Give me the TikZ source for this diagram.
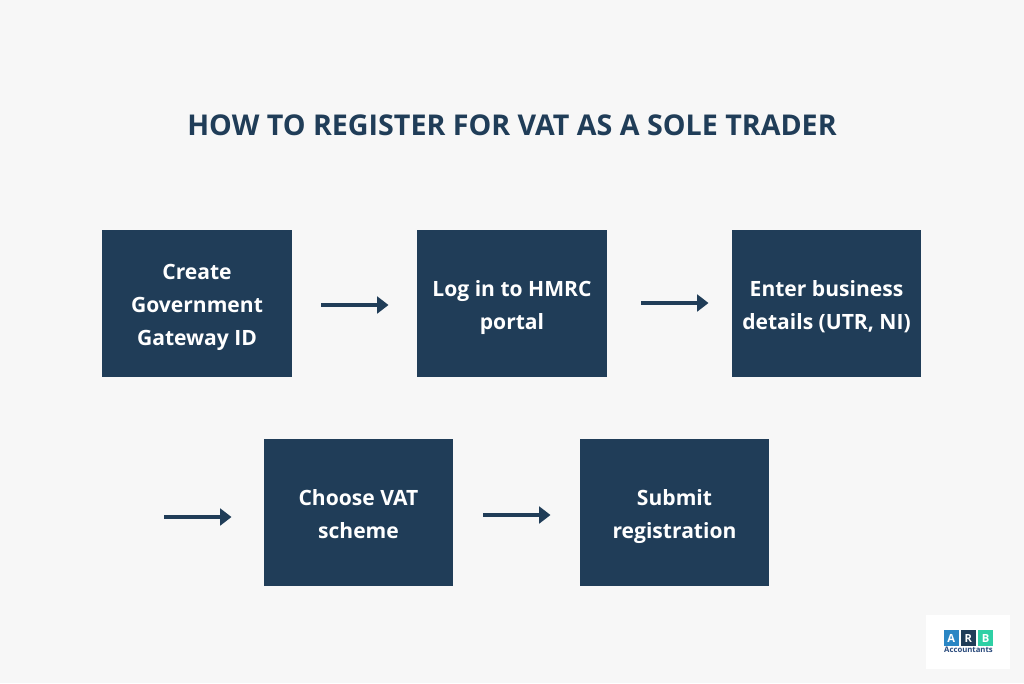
\documentclass[tikz,border=0pt]{standalone}
\usepackage{fontspec}
\setmainfont{Open Sans}
\usetikzlibrary{arrows.meta}
\definecolor{navy}{HTML}{203D58}
\definecolor{bgc}{HTML}{F7F7F7}
\definecolor{logoblue}{HTML}{2A86C4}
\definecolor{logogreen}{HTML}{2FD0A5}
\definecolor{logotext}{HTML}{2A4A7C}
\tikzset{
 x=0.75pt,y=-0.75pt,
 stepbox/.style={fill=navy,draw=none,minimum width=142.1pt,minimum height=110pt,inner sep=0pt,align=center,text=white},
 steptext/.style={inner sep=0pt,align=center,text=white,font=\fontsize{15.8}{24.8}\selectfont\bfseries},
 flow/.style={draw=navy,line width=3pt,-{Triangle[length=8.5pt,width=12.5pt]}},
 logosq/.style={minimum size=11.5pt,inner sep=0pt,text=white,font=\fontsize{8.4}{8.4}\selectfont\bfseries},
}
\begin{document}
\begin{tikzpicture}
\fill[bgc] (0,0) rectangle (1024,683);
\useasboundingbox (0,0) rectangle (1024,683);
\node[text=navy,font=\fontsize{21.47}{27}\selectfont\bfseries] (title) at (512,125) {HOW TO REGISTER FOR VAT AS A SOLE TRADER};
\node[stepbox] (s1) at (197.2,303.5) {};
\node[stepbox] (s2) at (512,303.5) {};
\node[stepbox] (s3) at (826.5,303.5) {};
\node[stepbox] (s4) at (358.5,512.5) {};
\node[stepbox] (s5) at (674.5,512.5) {};
\node[steptext] (t1) at (197,307) {Create\\Government\\Gateway ID};
\node[steptext] (t2) at (512,307.5) {Log in to HMRC\\portal};
\node[steptext] (t3) at (826.5,307) {Enter business\\details (UTR, NI)};
\node[steptext] (t4) at (358.5,514) {Choose VAT\\scheme};
\node[steptext] (t5) at (674.5,516.5) {Submit\\registration};
\coordinate (a1s) at (321,305); \coordinate (a1e) at (388.5,305);
\coordinate (a2s) at (641,303); \coordinate (a2e) at (708.5,303);
\coordinate (a3s) at (164,517); \coordinate (a3e) at (231.5,517);
\coordinate (a4s) at (483,515); \coordinate (a4e) at (550.5,515);
\draw[flow] (a1s) -- (a1e);
\draw[flow] (a2s) -- (a2e);
\draw[flow] (a3s) -- (a3e);
\draw[flow] (a4s) -- (a4e);
\fill[white] (926,615) rectangle (1010,669);
\node[logosq,fill=logoblue] (la) at (951.2,638) {A};
\node[logosq,fill=navy] (lr) at (968.2,638) {R};
\node[logosq,fill=logogreen] (lb) at (985.5,638) {B};
\node[text=logotext,font=\fontsize{5.8}{7}\selectfont\bfseries,inner sep=0pt] (lt) at (968.5,650) {Accountants};
\end{tikzpicture}
\end{document}
